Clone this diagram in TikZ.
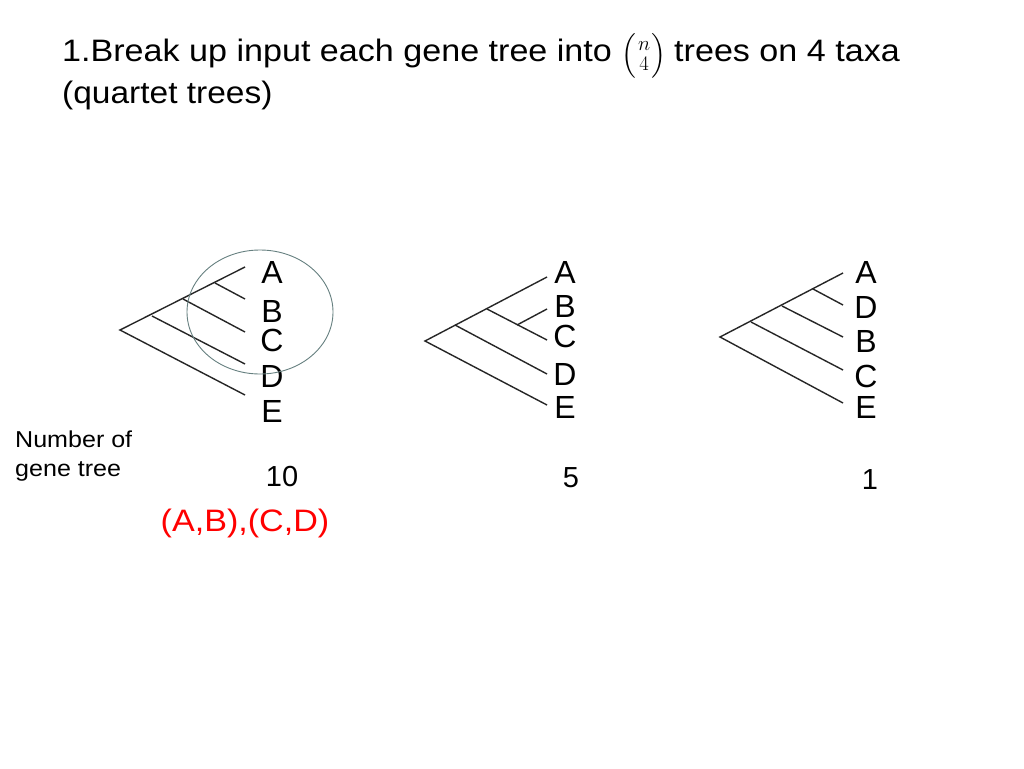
\documentclass[tikz,border=0pt]{standalone}
\usepackage{fontspec}
\setmainfont{Liberation Sans}
\usepackage{amsmath}
\usetikzlibrary{shapes.geometric}
\newcommand{\wid}[2]{\scalebox{#1}[1]{#2}}
\begin{document}
\begin{tikzpicture}[x=1pt,y=-1pt,
  br/.style={draw=black!85,line width=1.4pt},
  taxon/.style={font=\fontsize{32}{32}\selectfont,anchor=base,inner sep=0pt},
  cnt/.style={font=\fontsize{29}{29}\selectfont,anchor=base,inner sep=0pt},
  ttl/.style={font=\fontsize{31}{31}\selectfont,anchor=base west,inner sep=0pt},
  small/.style={font=\fontsize{23}{23}\selectfont,anchor=base west,inner sep=0pt}]
\useasboundingbox[fill=white] (0,0) rectangle (1024,768);
% title
\node[ttl] (t1) at (62,62) {\wid{1.1}{1.Break up input each gene tree into}\hspace{10pt}$\Bigl(\genfrac{}{}{0pt}{1}{n}{4}\Bigr)$\hspace{8pt}\wid{1.1}{trees on 4 taxa}};
\node[ttl] (t2) at (62,103) {\wid{1.08}{(quartet trees)}};
% tree 1
\coordinate (r1) at (120,330);
\coordinate (n1a) at (152,316);
\coordinate (n1b) at (183,299);
\coordinate (n1c) at (215,283);
\coordinate (l1a) at (245,267);
\coordinate (l1b) at (245,299);
\coordinate (l1c) at (245,332);
\coordinate (l1d) at (245,364);
\coordinate (l1e) at (245,395);
\draw[br] (l1a) -- (r1) -- (l1e);
\draw[br] (n1a) -- (l1d);
\draw[br] (n1b) -- (l1c);
\draw[br] (n1c) -- (l1b);
\node[taxon] (A1) at (272,283) {A};
\node[taxon] (B1) at (272,322) {B};
\node[taxon] (C1) at (272,351) {C};
\node[taxon] (D1) at (272,387) {D};
\node[taxon] (E1) at (272,422) {E};
\node[draw=gray!80!teal,line width=0.9pt,ellipse,inner sep=0pt,minimum width=146pt,minimum height=124pt] (q) at (260,312) {};
% tree 2
\coordinate (r2) at (425,341);
\coordinate (n2a) at (455,325);
\coordinate (n2b) at (487,309);
\coordinate (n2c) at (517,325);
\coordinate (l2a) at (547,277);
\coordinate (l2b) at (547,309);
\coordinate (l2c) at (547,340);
\coordinate (l2d) at (547,374);
\coordinate (l2e) at (547,405);
\draw[br] (l2a) -- (r2) -- (l2e);
\draw[br] (n2a) -- (l2d);
\draw[br] (n2b) -- (l2c);
\draw[br] (n2c) -- (l2b);
\node[taxon] (A2) at (565,283) {A};
\node[taxon] (B2) at (565,317) {B};
\node[taxon] (C2) at (565,347) {C};
\node[taxon] (D2) at (565,385) {D};
\node[taxon] (E2) at (565,418) {E};
% tree 3
\coordinate (r3) at (720,337);
\coordinate (n3a) at (751,322);
\coordinate (n3b) at (782,306);
\coordinate (n3c) at (813,289);
\coordinate (l3a) at (843,273);
\coordinate (l3b) at (843,305);
\coordinate (l3c) at (843,337);
\coordinate (l3d) at (843,370);
\coordinate (l3e) at (843,403);
\draw[br] (l3a) -- (r3) -- (l3e);
\draw[br] (n3a) -- (l3d);
\draw[br] (n3b) -- (l3c);
\draw[br] (n3c) -- (l3b);
\node[taxon] (A3) at (866,283) {A};
\node[taxon] (D3) at (866,318) {D};
\node[taxon] (B3) at (866,352) {B};
\node[taxon] (C3) at (866,387) {C};
\node[taxon] (E3) at (866,418) {E};
% counts
\node[small] (nof) at (15,447) {\wid{1.09}{Number of}};
\node[small] (gt) at (15,476) {\wid{1.09}{gene tree}};
\node[cnt] (c1) at (282,486) {10};
\node[cnt] (c2) at (571,487) {5};
\node[cnt] (c3) at (870,489) {1};
\node[cnt,text=red,font=\fontsize{31}{31}\selectfont] (qt) at (245,531) {\wid{1.1}{(A,B),(C,D)}};
\end{tikzpicture}
\end{document}
